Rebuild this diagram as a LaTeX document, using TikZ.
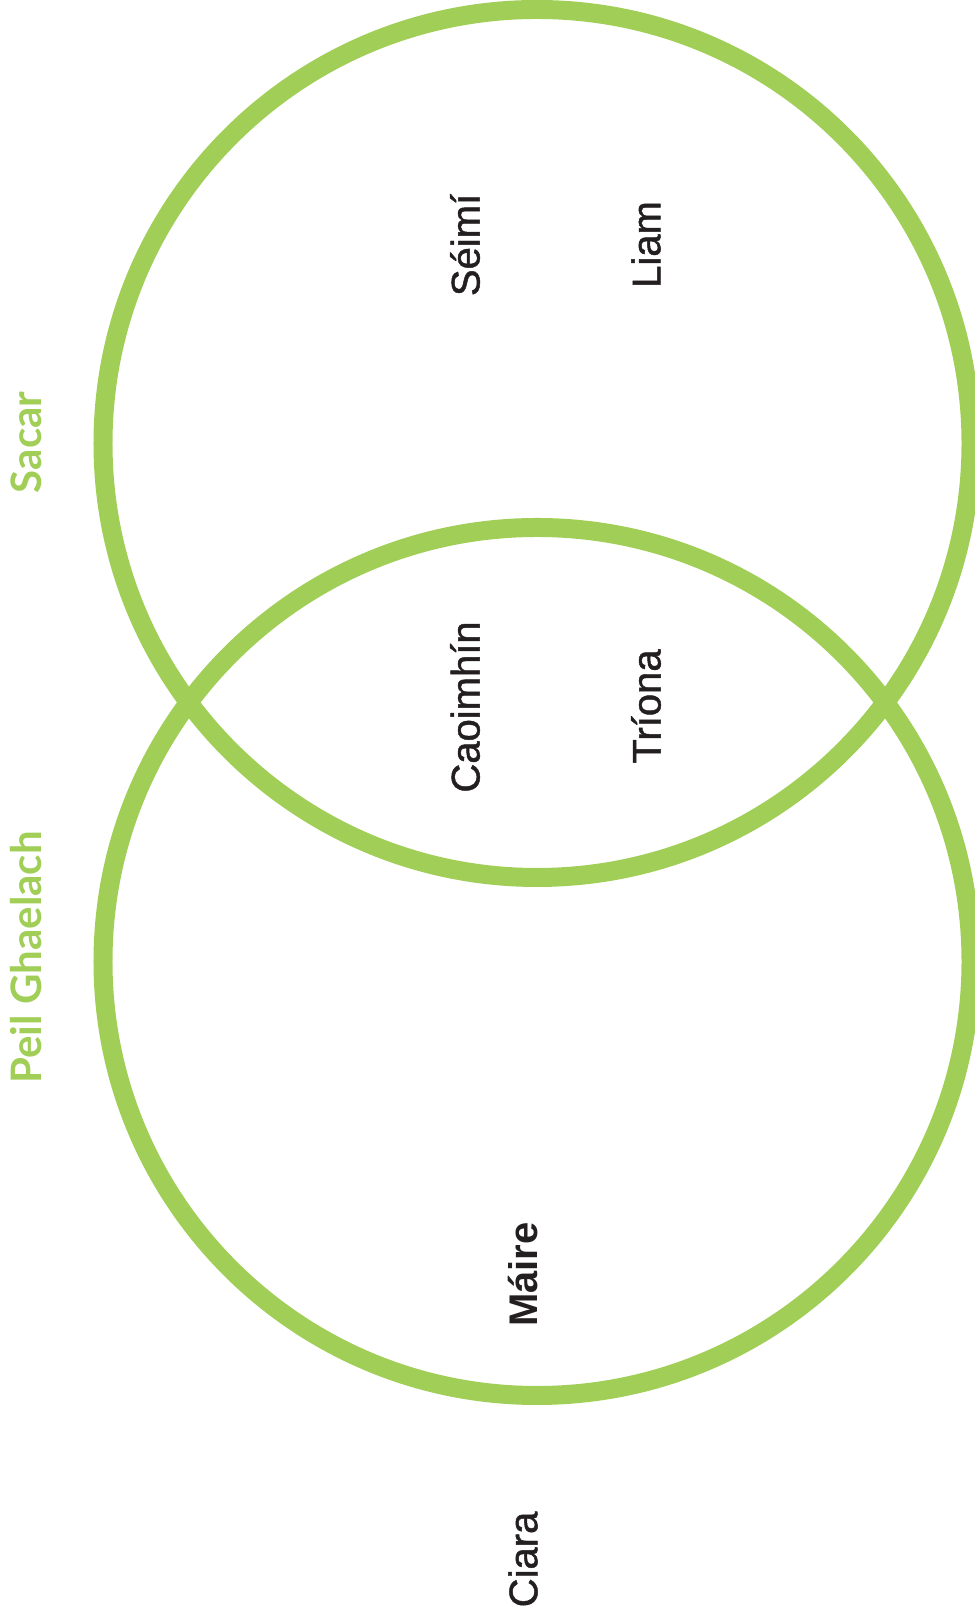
\documentclass[tikz,border=0pt]{standalone}
\usepackage{fontspec}
\setmainfont{Liberation Sans}
\newfontfamily\personfont{Liberation Sans}[FakeBold=1.2]
\newfontfamily\setfont{Lato}
\usetikzlibrary{positioning}
\definecolor{vengreen}{RGB}{161,206,87}
\definecolor{nameblack}{RGB}{35,31,32}

\begin{document}
\begin{tikzpicture}[
    x=1bp, y=1bp,
    ring/.style={circle, draw=vengreen, line width=19bp, minimum size=868bp, inner sep=0pt},
    person/.style={rotate=90, text=nameblack, inner sep=0pt, font=\personfont\fontsize{40bp}{48bp}\selectfont},
    setlabel/.style={rotate=90, text=vengreen, inner sep=0pt, font=\setfont\bfseries\fontsize{42bp}{50bp}\selectfont}
]
\useasboundingbox (0,0) rectangle (974,1617);
% Sets
\node[ring] (sacar) at (537,1173.5) {};
\node[ring] (peil) at (537,655.5) {};
% Set labels
\node[setlabel] (sacarlbl) at (26,1174.5) {Sacar};
\node[setlabel] (peillbl) at (26,659.5) {Peil Ghaelach};
% Sacar only
\node[person] (seimi) at (465,1372) {Séimí};
\node[person] (liam) at (646,1372.5) {Liam};
% Both
\node[person] (caoimhin) at (465,910) {Caoimhín};
\node[person] (triona) at (646,910.5) {Tríona};
% Peil Ghaelach only
\node[person, font=\bfseries\fontsize{40bp}{48bp}\selectfont] (maire) at (523,342.5) {Máire};
% Neither
\node[person] (ciara) at (523,57.5) {Ciara};
\end{tikzpicture}
\end{document}
